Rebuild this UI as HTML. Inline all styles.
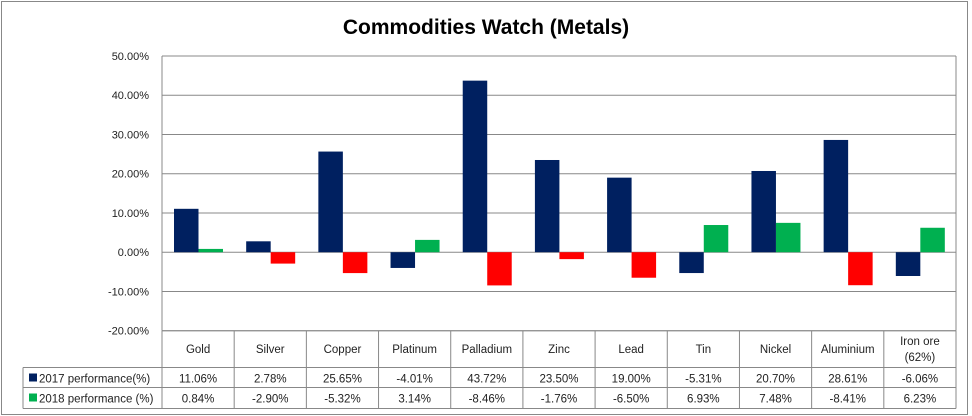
<!DOCTYPE html>
<html><head><meta charset="utf-8"><style>
body{margin:0;background:#fff;}
svg{display:block;font-family:"Liberation Sans","DejaVu Sans",sans-serif;}
</style></head><body>
<svg id="chart" width="972" height="416" viewBox="0 0 972 416">
<rect x="1.5" y="1.5" width="966" height="413" fill="#fff" stroke="#888"/>
<text x="486" y="34" text-anchor="middle" font-size="21" font-weight="bold" fill="#000">Commodities Watch (Metals)</text>
<g id="grid"></g><g id="bars"></g><g id="table"></g>
</svg>
<script>
const categories=["Gold","Silver","Copper","Platinum","Palladium","Zinc","Lead","Tin","Nickel","Aluminium","Iron ore|(62%)"];
const s2017=[11.06,2.78,25.65,-4.01,43.72,23.50,19.00,-5.31,20.70,28.61,-6.06];
const s2018=[0.84,-2.90,-5.32,3.14,-8.46,-1.76,-6.50,6.93,7.48,-8.41,6.23];
const ticks=[50,40,30,20,10,0,-10,-20];
const seriesNames=["2017 performance(%)","2018 performance (%)"];
const NS="http://www.w3.org/2000/svg";
const L=162,R=956,T=56,B=330.7,yMax=50,yMin=-20;
const y=v=>T+(yMax-v)/(yMax-yMin)*(B-T);
const cw=(R-L)/categories.length;
const x=i=>L+i*cw;
function mk(tag,attrs,parent,txt){const e=document.createElementNS(NS,tag);for(const k in attrs)e.setAttribute(k,attrs[k]);if(txt!==undefined)e.textContent=txt;parent.appendChild(e);return e;}
const grid=document.getElementById('grid'),bars=document.getElementById('bars'),tbl=document.getElementById('table');
ticks.forEach(t=>{
  const ln=mk('line',{x1:L,x2:R,y1:y(t),y2:y(t),stroke:'#888','stroke-width':1},grid);
  
  
  const tx=mk('text',{x:149,y:y(t)+4,'text-anchor':'end','font-size':11,fill:'#222'},grid,t.toFixed(2)+'%');
  
  
});
mk('line',{x1:L,x2:L,y1:T,y2:B,stroke:'#888'},grid);
mk('line',{x1:R,x2:R,y1:T,y2:B,stroke:'#888'},grid);
const colors=["#002060","#00B050"];
const bw=24.5;
categories.forEach((c,i)=>{
  [s2017[i],s2018[i]].forEach((v,j)=>{
    let col=colors[j];
    if(j===1&&v<0)col="#FF0000";
    const y0=y(0),y1=y(v);
    const r=mk('rect',{x:x(i)+12+j*bw,y:Math.min(y0,y1),width:bw,height:Math.abs(y1-y0),fill:col},bars);
    
    
  });
});
// table
const r0=B,r1=367.5,r2=387.5,r3=408.5,TL=23;
mk('line',{x1:L,x2:R,y1:r0,y2:r0,stroke:'#888'},tbl);
[r1,r2,r3].forEach(yy=>mk('line',{x1:TL,x2:R,y1:yy,y2:yy,stroke:'#888'},tbl));
mk('line',{x1:TL,x2:TL,y1:r1,y2:r3,stroke:'#888'},tbl);
for(let i=0;i<=categories.length;i++)mk('line',{x1:x(i),x2:x(i),y1:r0,y2:r3,stroke:'#888'},tbl);
categories.forEach((c,i)=>{
  const parts=c.split('|');const cx=x(i)+cw/2;
  parts.forEach((p,k)=>{
    const yy=parts.length>1?345+k*16:353;
    const t=mk('text',{x:cx,y:yy,'text-anchor':'middle','font-size':11.5,fill:'#222'},tbl,p);
    
    
  });
  [s2017[i],s2018[i]].forEach((v,j)=>{
    const t=mk('text',{x:cx,y:(j?r2:r1)+15,'text-anchor':'middle','font-size':11.5,fill:'#222'},tbl,v.toFixed(2)+'%');
    
    
  });
});
seriesNames.forEach((n,j)=>{
  const yy=j?r2:r1;
  const k=mk('rect',{x:29,y:yy+6,width:8,height:8,fill:colors[j]},tbl);
  
  
  const t=mk('text',{x:39,y:yy+15,'font-size':11.5,fill:'#222'},tbl,n);
  
  
});
</script>
</body></html>
